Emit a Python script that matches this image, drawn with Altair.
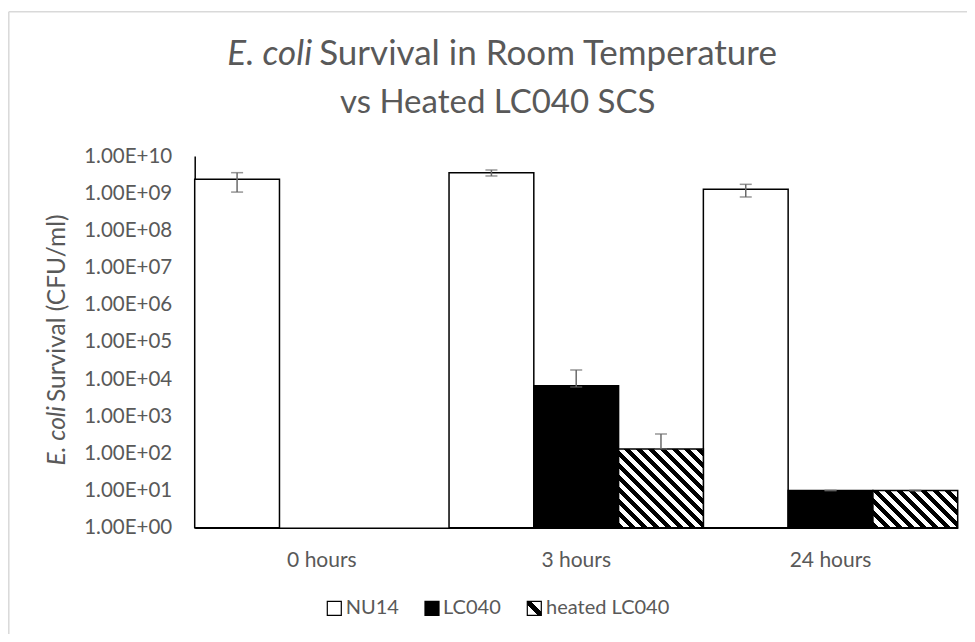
import math
import altair as alt
import pandas as pd

# ---------------- data ----------------
categories = ["0 hours", "3 hours", "24 hours"]
series_names = ["NU14", "LC040", "heated LC040"]

nu14 = [2.36e9, 3.56e9, 1.27e9]
nu14_lo = [1.07e9, 2.9e9, 7.9e8]
nu14_hi = [3.56e9, 4.2e9, 1.73e9]

lc040 = [None, 6.6e3, 10]
lc040_lo = [None, 6.1e3, 10]
lc040_hi = [None, 1.75e4, 10]

heated = [None, 131, 10]
heated_lo = [None, 131, 10]
heated_hi = [None, 332, 10]

y_ticks = [1e0, 1e1, 1e2, 1e3, 1e4, 1e5, 1e6, 1e7, 1e8, 1e9, 1e10]

# ---------------- style / layout ----------------
FONT = "Lato"
GRAY = "#595959"
ERR = "#6a6a6a"
PLOT_W = 763
PLOT_H = 371.7
HATCH_P = 12.0  # horizontal period of the hatch, px

rows = []
for s, vals, los, his in [
    ("NU14", nu14, nu14_lo, nu14_hi),
    ("LC040", lc040, lc040_lo, lc040_hi),
    ("heated LC040", heated, heated_lo, heated_hi),
]:
    for c, v, lo, hi in zip(categories, vals, los, his):
        if v is None:
            continue
        rows.append({"time": c, "series": s, "value": v, "lo": lo, "hi": hi})
df = pd.DataFrame(rows)

x_axis = alt.Axis(title=None, labelFont=FONT, labelFontSize=21, labelColor=GRAY,
                  ticks=False, domainColor="black", domainWidth=1.5,
                  labelPadding=33, labelBaseline="middle", labelAngle=0)
y_axis = alt.Axis(title=None, values=y_ticks, labelFont=FONT, labelFontSize=20.5,
                  labelColor=GRAY, ticks=False, grid=False, domainColor="black",
                  domainWidth=1.5, labelPadding=23, labelBaseline="middle",
                  labelOverlap=False, labelFlush=False,
                  labelExpr="'1.00E+' + (round(log(datum.value)/LN10) < 10 ? '0' : '') + round(log(datum.value)/LN10)")

x_enc = alt.X("time:N", scale=alt.Scale(domain=categories, paddingInner=0, paddingOuter=0), axis=x_axis)
xoff = alt.XOffset("series:N", scale=alt.Scale(domain=series_names, paddingInner=0, paddingOuter=0))
yscale = alt.Scale(type="log", domain=[1, 1e10], nice=False)


def hatch_gradient(w, h, period=HATCH_P):
    n = int(math.ceil((w + h) / period))
    c = n * period / (w * w + h * h)
    a, b = c * w, c * h
    stops = []
    for i in range(n):
        stops += [
            {"offset": i / n, "color": "black"},
            {"offset": (i + 0.5) / n, "color": "black"},
            {"offset": (i + 0.5) / n, "color": "white"},
            {"offset": (i + 1) / n, "color": "white"},
        ]
    return {"gradient": "linear", "x1": 0, "y1": 1, "x2": a, "y2": 1 - b, "stops": stops}


bar_w = PLOT_W / len(categories) / len(series_names)
conds = []
for c, v in zip(categories, heated):
    if v is None:
        continue
    h = math.log10(v) / 10 * PLOT_H
    conds.append({"test": f"datum.series === 'heated LC040' && datum.time === '{c}'",
                  "value": hatch_gradient(bar_w, h)})

fill_enc = alt.Fill("series:N", scale=alt.Scale(domain=series_names, range=["white", "black", "white"]),
                    legend=None, condition=conds)

bars = alt.Chart(df).mark_bar(stroke="black", strokeWidth=1.5).encode(
    x=x_enc,
    xOffset=xoff,
    y=alt.Y("value:Q", scale=yscale, axis=y_axis),
    y2=alt.datum(1),
    fill=fill_enc,
)

err_rule = alt.Chart(df).mark_rule(color=ERR, strokeWidth=1.5).encode(
    x=x_enc, xOffset=xoff,
    y=alt.Y("lo:Q", scale=yscale, axis=y_axis), y2="hi:Q")
err_lo = alt.Chart(df).mark_tick(color=ERR, thickness=1.5, size=12, orient="horizontal").encode(
    x=x_enc, xOffset=xoff, y=alt.Y("lo:Q", scale=yscale, axis=y_axis))
err_hi = alt.Chart(df).mark_tick(color=ERR, thickness=1.5, size=12, orient="horizontal").encode(
    x=x_enc, xOffset=xoff, y=alt.Y("hi:Q", scale=yscale, axis=y_axis))

dummy = pd.DataFrame({"a": [0]})


def txt(text, x, y, size, italic=False, align="left", baseline="alphabetic", angle=0):
    return alt.Chart(dummy).mark_text(
        text=text, font=FONT, fontSize=size, color=GRAY, align=align, baseline=baseline,
        angle=angle, fontStyle="italic" if italic else "normal",
    ).encode(x=alt.value(x), y=alt.value(y))


title_layers = [
    txt("E. coli", 117.5, -91, 35, italic=True, align="right"),
    txt("Survival in Room Temperature", 124.5, -91, 35, align="left"),
    txt("vs Heated LC040 SCS", 303, -42.7, 33, align="center"),
]

ytitle_layers = [
    txt("E. coli", -129.7, 250, 24.5, italic=True, align="right", angle=270),
    txt("Survival (CFU/ml)", -129.7, 246, 24.5, align="left", angle=270),
]

# legend
leg_y = 452.3
leg_box_x = [139.6, 237.3, 339.6]
leg_txt_x = [151, 248.3, 351.3]
leg_fills = ["white", "black",
             {"gradient": "linear", "x1": 0, "y1": 1, "x2": 1, "y2": 0,
              "stops": [{"offset": 0, "color": "white"}, {"offset": 0.36, "color": "white"},
                        {"offset": 0.36, "color": "black"}, {"offset": 0.64, "color": "black"},
                        {"offset": 0.64, "color": "white"}, {"offset": 1, "color": "white"}]}]
legend_layers = []
for name, bx, tx, f in zip(series_names, leg_box_x, leg_txt_x, leg_fills):
    legend_layers.append(
        alt.Chart(dummy).mark_square(size=196, fill=f, stroke="black", strokeWidth=1.2, opacity=1)
        .encode(x=alt.value(bx), y=alt.value(leg_y)))
    legend_layers.append(txt(name, tx, leg_y, 20, align="left", baseline="middle"))

# outer chart frame (light gray)
frame = [
    alt.Chart(dummy).mark_rule(color="#d9d9d9", strokeWidth=1.5).encode(
        x=alt.value(-185.9), y=alt.value(-144.3), y2=alt.value(480)),
    alt.Chart(dummy).mark_rule(color="#d9d9d9", strokeWidth=1.5).encode(
        x=alt.value(-185.9), x2=alt.value(790), y=alt.value(-144.3)),
]

chart = alt.layer(
    *frame, bars, err_rule, err_lo, err_hi, *title_layers, *ytitle_layers, *legend_layers
).properties(
    width=PLOT_W, height=PLOT_H,
    padding={"left": 186.7, "top": 148, "right": 9.3, "bottom": 106.3},
    autosize=alt.AutoSizeParams(type="none"),
    background="white",
).configure_view(stroke=None)

chart.save("out.html", embed_options={"renderer": "svg", "actions": False})
